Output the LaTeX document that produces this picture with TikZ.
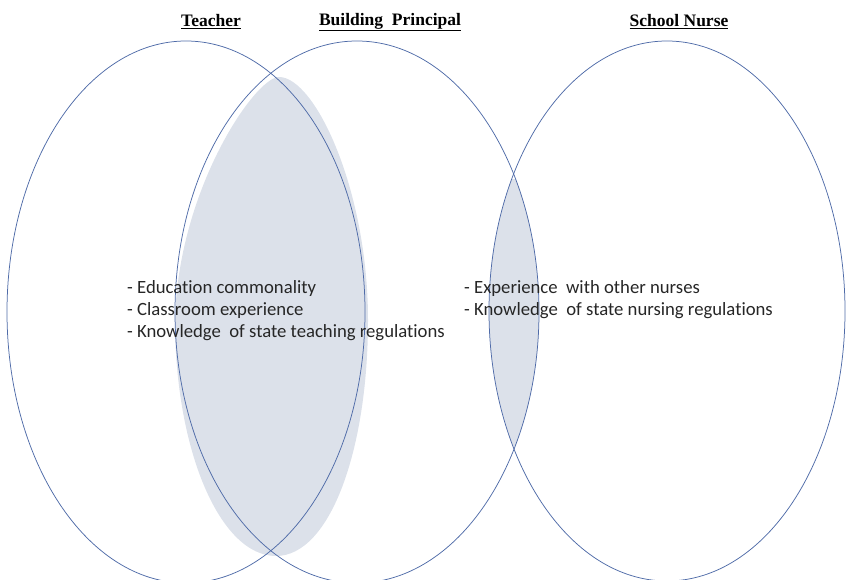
\documentclass[tikz,border=0pt]{standalone}
\usepackage{fontspec}
\setmainfont{Liberation Serif}
\newfontfamily\bodyfont[Ligatures=NoCommon]{Carlito}
\definecolor{ringblue}{HTML}{4F6BA8}
\definecolor{lensfill}{HTML}{DCE1EA}
\definecolor{txt}{HTML}{262626}
\begin{document}
\begin{tikzpicture}[x=1pt,y=-1pt,
  ring/.style={draw=ringblue,line width=0.75pt},
  title/.style={font=\fontsize{17.5}{20}\selectfont\bfseries,text=black,inner sep=0pt},
  body/.style={font=\bodyfont\fontsize{18.7}{22}\selectfont,text=txt,align=left,anchor=west,inner sep=0pt}]
\useasboundingbox (0,0) rectangle (846,580);
% shaded regions
\fill[lensfill] (175,320) .. controls (178,190) and (255,77) .. (279,77)
  .. controls (315,77) and (368,190) .. (368,320)
  .. controls (368,450) and (330,556) .. (276,556)
  .. controls (220,556) and (175,450) .. (175,320) -- cycle;
\begin{scope}
  \clip (480,180) rectangle (550,445);
  \clip (357,312) ellipse [x radius=182, y radius=271];
  \fill[lensfill] (667,311) ellipse [x radius=178, y radius=270];
\end{scope}
% circles
\draw[ring] (186,312) ellipse [x radius=179, y radius=271];
\draw[ring] (357,312) ellipse [x radius=182, y radius=271];
\draw[ring] (667,311) ellipse [x radius=178, y radius=270];
% titles
\node[title] (tteacher) at (211,22) {\underline{Teacher}};
\node[title] (tprincipal) at (390,22) {\underline{Building\ \ Principal}};
\node[title] (tnurse) at (679,22) {\underline{School Nurse}};
% texts
\node[body] (left) at (127,311) {- Education commonality\\- Classroom experience\\- Knowledge\ \ of state teaching regulations};
\node[body] (right) at (464,300) {- Experience\ \ with other nurses\\- Knowledge\ \ of state nursing regulations};
\end{tikzpicture}
\end{document}
